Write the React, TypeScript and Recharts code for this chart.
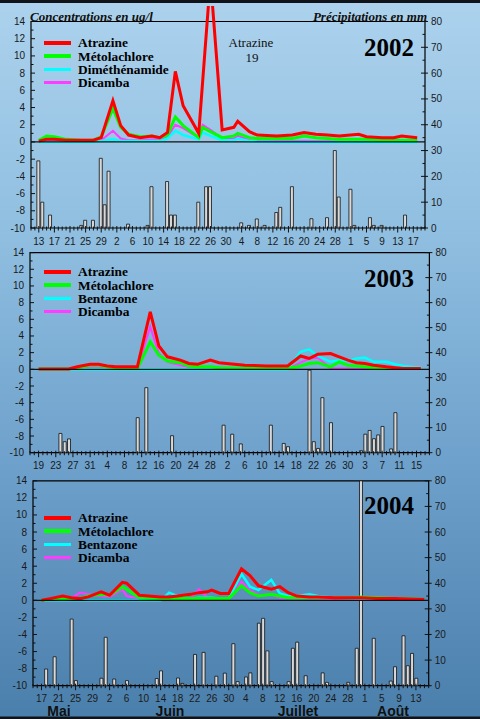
import React from "react";
import {
  Bar,
  ComposedChart,
  Legend,
  Line,
  ReferenceArea,
  ReferenceLine,
  XAxis,
  YAxis,
} from "recharts";

// day numbers: 1 = 1 May, 32 = 1 June, 62 = 1 July, 93 = 1 August

const days2002 = [13, 15, 17, 20, 24, 27, 29, 32, 34, 36, 39, 42, 44, 46, 48, 50, 54, 55, 57, 60, 63, 64, 67, 69, 74, 78, 81, 84, 87, 90, 95, 97, 101, 104, 106, 110];
const atrazine2002 = [0.1, 0.3, 0.3, 0.2, 0.2, 0.2, 0.5, 4.8, 1.9, 0.8, 0.5, 0.7, 0.5, 1.1, 8.2, 4.2, 1.0, 7.0, 19, 1.4, 1.7, 2.4, 1.2, 0.8, 0.7, 0.8, 1.1, 0.9, 0.8, 0.7, 0.9, 0.6, 0.5, 0.5, 0.7, 0.5];
const metolachlore2002 = [0.2, 0.7, 0.6, 0.3, 0.2, 0.2, 0.6, 3.9, 1.7, 0.9, 0.6, 0.7, 0.5, 0.8, 2.9, 1.9, 0.5, 1.7, 1.2, 0.5, 0.7, 1.0, 0.5, 0.4, 0.4, 0.4, 0.7, 0.5, 0.4, 0.3, 0.3, 0.3, 0.2, 0.2, 0.2, 0.2];
const dimethenamide2002 = [0, 0, 0, 0, 0, 0, 0.1, 0.3, 0.1, 0.1, 0.1, 0.1, 0.1, 0.4, 1.3, 0.8, 0.3, 1.1, 0.7, 0.2, 0.2, 0.4, 0.1, 0.05, 0, 0, 0, 0, 0, 0, 0, 0, 0, 0, 0, 0];
const dicamba2002 = [0.05, 0.1, 0.1, 0.1, 0.1, 0.1, 0.2, 1.3, 0.4, 0.2, 0.2, 0.3, 0.3, 0.6, 2.0, 1.6, 0.5, 2.0, 1.4, 0.4, 0.4, 0.7, 0.2, 0.1, 0.1, 0.1, 0.15, 0.1, 0.1, 0.05, 0.05, 0.05, 0.05, 0.05, 0.05, 0.05];
const rainDays2002 = [13, 14, 16, 24, 25, 27, 29, 30, 31, 36, 41, 42, 46, 47, 48, 54, 56, 57, 65, 67, 69, 71, 74, 75, 78, 83, 87, 89, 90, 93, 94, 98, 99, 101, 107];
const rain2002 = [26, 10, 5, 1, 3, 3, 27, 9, 22, 1.5, 1, 16, 18, 5, 5, 10, 16, 16, 2, 1, 3.5, 1, 6, 8, 16, 3.6, 4, 30, 12, 15, 1, 4, 1, 1, 5];

const days2003 = [19, 26, 28, 31, 33, 35, 37, 42, 45, 47, 49, 52, 54, 56, 59, 61, 67, 72, 77, 80, 82, 84, 87, 89, 91, 93, 95, 97, 100, 102, 104, 108];
const atrazine2003 = [0.05, 0.05, 0.3, 0.6, 0.6, 0.4, 0.3, 0.3, 6.9, 2.8, 1.5, 1.1, 0.7, 0.6, 1.1, 0.8, 0.5, 0.4, 0.4, 1.6, 1.3, 1.8, 1.9, 1.5, 1.1, 0.8, 0.7, 0.5, 0.3, 0.2, 0.1, 0.1];
const metolachlore2003 = [0.05, 0.05, 0.2, 0.5, 0.5, 0.3, 0.2, 0.1, 3.3, 1.7, 1.0, 0.8, 0.4, 0.3, 0.3, 0.2, 0.1, 0.1, 0.1, 0.4, 0.7, 0.8, 0.3, 0.9, 0.5, 0.4, 0.3, 0.2, 0.2, 0.1, 0.1, 0.1];
const bentazone2003 = [0, 0, 0, 0, 0, 0, 0, 0, 0, 0, 0, 0, 0, 0, 0, 0, 0, 0, 0, 2.1, 2.4, 1.6, 0.9, 1.1, 1.0, 1.3, 1.4, 0.9, 0.9, 0.6, 0.4, 0.2];
const dicamba2003 = [0, 0, 0.1, 0.3, 0.3, 0.2, 0.1, 0.1, 5.1, 1.9, 0.9, 0.5, 0.3, 0.3, 0.2, 0.2, 0.1, 0.05, 0.05, 0.8, 1.3, 1.4, 0.1, 0.1, 0.1, 0.05, 0.05, 0.05, 0.05, 0.05, 0.05, 0.05];
const rainDays2003 = [24, 25, 26, 42, 44, 50, 62, 64, 66, 73, 76, 77, 82, 83, 84, 85, 87, 94, 95, 96, 97, 98, 99, 101, 102];
const rain2003 = [7.7, 4.4, 5.5, 14, 26, 6.8, 11, 7.4, 3.5, 11, 3.7, 2.4, 33, 4.4, 1.7, 22, 12, 0.8, 7.4, 8.9, 5.6, 7.1, 10.5, 1.5, 16];

const days2004 = [17, 19, 22, 24, 26, 28, 31, 33, 36, 37, 40, 45, 47, 49, 52, 54, 56, 57, 59, 61, 64, 66, 68, 71, 73, 75, 77, 80, 82, 86, 90, 92, 96, 100, 107];
const atrazine2004 = [0, 0.2, 0.5, 0.3, 0.2, 0.4, 1.0, 0.6, 2.1, 2.0, 0.6, 0.4, 0.4, 0.5, 0.7, 0.9, 1.0, 1.2, 0.8, 0.8, 3.7, 2.9, 1.7, 1.3, 1.6, 0.9, 0.5, 0.4, 0.4, 0.3, 0.3, 0.3, 0.2, 0.2, 0.1];
const metolachlore2004 = [0, 0.1, 0.2, 0.2, 0.2, 0.5, 0.7, 0.6, 1.6, 1.3, 0.3, 0.2, 0.2, 0.2, 0.2, 0.2, 0.2, 0.2, 0.2, 0.2, 1.7, 0.9, 0.5, 0.7, 0.5, 0.3, 0.3, 0.3, 0.3, 0.3, 0.3, 0.4, 0.3, 0.2, 0.1];
const bentazone2004 = [0, 0, 0, 0, 0, 0, 0, 0, 0, 0, 0, 0, 0.9, 0.5, 0.2, 0.3, 0.3, 0.3, 0.2, 0.2, 3.1, 1.6, 1.2, 2.4, 0.8, 0.5, 0.5, 0.7, 0.5, 0.3, 0.2, 0.2, 0.1, 0.1, 0.1];
const dicamba2004 = [0, 0.1, 0.3, 0.2, 0.9, 0.7, 0.5, 0.4, 1.3, 0.5, 0.2, 0.2, 0.2, 0.2, 0.2, 1.3, 0.3, 0.3, 0.2, 0.1, 2.2, 1.2, 0.6, 0.7, 0.3, 0.2, 0.1, 0.1, 0.1, 0.1, 0.1, 0.1, 0.1, 0.1, 0.05];
const rainDays2004 = [18, 20, 24, 25, 31, 32, 34, 37, 44, 45, 49, 50, 53, 55, 58, 60, 62, 63, 65, 66, 68, 69, 70, 71, 75, 76, 77, 79, 83, 84, 89, 91, 92, 95, 99, 100, 102, 103, 104, 105];
const rain2004 = [6.5, 11.3, 26, 2, 2.9, 18.9, 2.6, 2, 2.8, 5.8, 3, 0.9, 12.2, 13, 3.7, 4.9, 16.4, 1.6, 3.4, 5, 24.4, 26.3, 13.6, 1.6, 1.6, 14.6, 17, 3.9, 5, 1.3, 1.3, 14.6, 80, 18.5, 1.8, 7.4, 19.5, 7.8, 12.6, 2.9];

const monthLabels = ["Mai", "Juin", "Juillet", "Août"];

const SERIF = '"Liberation Serif", "DejaVu Serif", serif';
const SANS = '"Liberation Sans", Arial, sans-serif';

interface SeriesDef {
  key: string;
  name: string;
  color: string;
  width: number;
}

type Row = { day: number; [key: string]: number };

function range(from: number, to: number, step: number): number[] {
  const out: number[] = [];
  for (let v = from; v <= to; v += step) out.push(v);
  return out;
}

function buildRows(
  days: number[],
  series: Record<string, number[]>,
  rainDays: number[],
  rain: number[],
): Row[] {
  const byDay = new Map<number, Row>();
  const rowFor = (d: number) => {
    if (!byDay.has(d)) byDay.set(d, { day: d });
    return byDay.get(d)!;
  };
  days.forEach((d, i) => {
    const row = rowFor(d);
    Object.entries(series).forEach(([key, values]) => {
      row[key] = values[i];
    });
  });
  rainDays.forEach((d, i) => {
    rowFor(d).rain = rain[i];
  });
  return [...byDay.values()].sort((a, b) => a.day - b.day);
}

function dayOfMonth(d: number): number {
  if (d > 92) return d - 92;
  if (d > 61) return d - 61;
  if (d > 31) return d - 31;
  return d;
}

function seriesFor(third: string): SeriesDef[] {
  return [
    { key: "atrazine", name: "Atrazine", color: "#ff0000", width: 3 },
    { key: "metolachlore", name: "Métolachlore", color: "#00ff00", width: 3 },
    { key: "third", name: third, color: "#00ffff", width: 2.5 },
    { key: "dicamba", name: "Dicamba", color: "#ff3cff", width: 2 },
  ];
}

function DayTick(props: any) {
  const { x, y, payload, firstMajor } = props;
  const day = payload.value;
  const major = (day - firstMajor) % 4 === 0;
  return (
    <g>
      <line x1={x} x2={x} y1={y - (major ? 2 : 1.5)} y2={y + (major ? 4.5 : 2.5)} stroke="#111" strokeWidth={1} />
      {major && (
        <text x={x} y={y + 16.5} textAnchor="middle" fontFamily={SANS} fontSize={10} fill="#1a1a1a">
          {dayOfMonth(day)}
        </text>
      )}
    </g>
  );
}

function LeftTick(props: any) {
  const { x, y, payload } = props;
  const v = payload.value;
  const major = v % 2 === 0;
  return (
    <g>
      <line x1={x} x2={x + (major ? 4 : 2.5)} y1={y} y2={y} stroke="#111" strokeWidth={1} />
      {major && (
        <text x={x - 6} y={y + 3.5} textAnchor="end" fontFamily={SANS} fontSize={10} fill="#1a1a1a">
          {v}
        </text>
      )}
    </g>
  );
}

function RightTick(props: any) {
  const { x, y, payload } = props;
  const v = payload.value;
  const major = v % 10 === 0;
  return (
    <g>
      <line x1={x - (major ? 4 : 2.5)} x2={x + (major ? 3 : 0)} y1={y} y2={y} stroke="#111" strokeWidth={1} />
      {major && (
        <text x={x + 6} y={y + 3.5} textAnchor="start" fontFamily={SANS} fontSize={10} fill="#1a1a1a">
          {v}
        </text>
      )}
    </g>
  );
}

function LegendBox({ payload, series }: { payload?: any[]; series: SeriesDef[] }) {
  const entries = series
    .map((s) => ({ s, p: (payload || []).find((p) => p.dataKey === s.key) }))
    .filter((e) => e.p);
  return (
    <div>
      {entries.map(({ s, p }) => (
        <div key={s.key} style={{ display: "flex", alignItems: "center", height: 13.4 }}>
          <span
            style={{
              display: "inline-block",
              width: 27,
              height: s.width + 1,
              background: p.color,
              marginRight: 7,
            }}
          />
          <span
            style={{
              fontFamily: SERIF,
              fontWeight: "bold",
              fontSize: 13.4,
              lineHeight: "13px",
              color: "#000",
              whiteSpace: "nowrap",
            }}
          >
            {p.value}
          </span>
        </div>
      ))}
    </div>
  );
}

interface PanelProps {
  top: number;
  height: number;
  marginTop: number;
  leftWidth: number;
  rightWidth: number;
  axisHeight: number;
  xDomain: [number, number];
  firstMajor: number;
  leftMax: number;
  rightMax: number;
  legendTop: number;
  rows: Row[];
  series: SeriesDef[];
}

function Panel({
  top,
  height,
  marginTop,
  leftWidth,
  rightWidth,
  axisHeight,
  xDomain,
  firstMajor,
  leftMax,
  rightMax,
  legendTop,
  rows,
  series,
}: PanelProps) {
  return (
    <div style={{ position: "absolute", left: 0, top }}>
      <ComposedChart
        width={480}
        height={height}
        data={rows}
        margin={{ top: marginTop, right: 0, bottom: 0, left: 0 }}
      >
        <XAxis
          dataKey="day"
          type="number"
          domain={xDomain}
          ticks={range(xDomain[0], xDomain[1], 1)}
          interval={0}
          height={axisHeight}
          allowDataOverflow
          axisLine={false}
          tickLine={false}
          tickSize={0}
          tickMargin={0}
          tick={(p: any) => <DayTick {...p} firstMajor={firstMajor} />}
        />
        <YAxis
          yAxisId="c"
          domain={[-10, leftMax]}
          ticks={range(-10, 14, 1)}
          interval={0}
          width={leftWidth}
          allowDataOverflow
          axisLine={false}
          tickLine={false}
          tickSize={0}
          tickMargin={0}
          tick={(p: any) => <LeftTick {...p} />}
        />
        <YAxis
          yAxisId="r"
          orientation="right"
          domain={[0, rightMax]}
          ticks={range(0, 80, 5)}
          interval={0}
          width={rightWidth}
          allowDataOverflow
          axisLine={false}
          tickLine={false}
          tickSize={0}
          tickMargin={0}
          tick={(p: any) => <RightTick {...p} />}
        />
        <ReferenceArea
          yAxisId="c"
          x1={xDomain[0]}
          x2={xDomain[1]}
          y1={-10}
          y2={14}
          fill="none"
          stroke="#000"
          strokeWidth={1.2}
        />
        <Bar
          yAxisId="r"
          dataKey="rain"
          barSize={3}
          fill="#d8d8d8"
          stroke="#111"
          strokeWidth={0.8}
          legendType="none"
          isAnimationActive={false}
        />
        {[...series].reverse().map((s) => (
          <Line
            key={s.key}
            yAxisId="c"
            type="linear"
            dataKey={s.key}
            name={s.name}
            stroke={s.color}
            strokeWidth={s.width}
            dot={false}
            connectNulls
            isAnimationActive={false}
          />
        ))}
        <ReferenceLine yAxisId="c" y={0} stroke="#111" strokeWidth={1.3} />
        <Legend
          layout="vertical"
          align="center"
          verticalAlign="middle"
          wrapperStyle={{ top: legendTop, left: 44, width: "auto", height: "auto" }}
          content={(p: any) => <LegendBox payload={p.payload} series={series} />}
        />
      </ComposedChart>
    </div>
  );
}

export default function App() {
  const rows2002 = buildRows(
    days2002,
    { atrazine: atrazine2002, metolachlore: metolachlore2002, third: dimethenamide2002, dicamba: dicamba2002 },
    rainDays2002,
    rain2002,
  );
  const rows2003 = buildRows(
    days2003,
    { atrazine: atrazine2003, metolachlore: metolachlore2003, third: bentazone2003, dicamba: dicamba2003 },
    rainDays2003,
    rain2003,
  );
  const rows2004 = buildRows(
    days2004,
    { atrazine: atrazine2004, metolachlore: metolachlore2004, third: bentazone2004, dicamba: dicamba2004 },
    rainDays2004,
    rain2004,
  );
  const atrazinePeak = Math.max(...atrazine2002);

  return (
    <div
      style={{
        position: "absolute",
        left: 0,
        top: 0,
        width: 480,
        height: 719,
        overflow: "hidden",
        background: "linear-gradient(180deg, #acd2ed 0%, #8fbee0 33%, #6c9fca 66%, #4b7fab 100%)",
      }}
    >
      <Panel
        top={0}
        height={250}
        marginTop={6}
        leftWidth={31}
        rightWidth={55}
        axisHeight={22}
        xDomain={[11, 112]}
        firstMajor={13}
        leftMax={15.8}
        rightMax={86}
        legendTop={36}
        rows={rows2002}
        series={seriesFor("Diméthénamide")}
      />
      <Panel
        top={240}
        height={240}
        marginTop={12.6}
        leftWidth={30}
        rightWidth={50.6}
        axisHeight={27.3}
        xDomain={[17, 110]}
        firstMajor={19}
        leftMax={14}
        rightMax={80}
        legendTop={25}
        rows={rows2003}
        series={seriesFor("Bentazone")}
      />
      <Panel
        top={470}
        height={249}
        marginTop={10.8}
        leftWidth={33}
        rightWidth={51.3}
        axisHeight={33.3}
        xDomain={[15, 108]}
        firstMajor={17}
        leftMax={14}
        rightMax={80}
        legendTop={41}
        rows={rows2004}
        series={seriesFor("Bentazone")}
      />
      <svg
        width={480}
        height={719}
        style={{ position: "absolute", left: 0, top: 0, pointerEvents: "none" }}
      >
        <text x={30} y={20.5} fontFamily={SERIF} fontStyle="italic" fontWeight="bold" fontSize={13} fill="#111">
          Concentrations en ug/l
        </text>
        <text x={427} y={20.5} textAnchor="end" fontFamily={SERIF} fontStyle="italic" fontWeight="bold" fontSize={13} fill="#111">
          Précipitations en mm
        </text>
        <text x={251} y={47} textAnchor="middle" fontFamily={SERIF} fontSize={13} fill="#111">
          Atrazine
        </text>
        <text x={252} y={61.5} textAnchor="middle" fontFamily={SERIF} fontSize={13} fill="#111">
          {atrazinePeak}
        </text>
        <text x={414} y={56} textAnchor="end" fontFamily={SERIF} fontWeight="bold" fontSize={25} fill="#000">
          2002
        </text>
        <text x={414} y={286.5} textAnchor="end" fontFamily={SERIF} fontWeight="bold" fontSize={25} fill="#000">
          2003
        </text>
        <text x={414} y={514} textAnchor="end" fontFamily={SERIF} fontWeight="bold" fontSize={25} fill="#000">
          2004
        </text>
        {monthLabels.map((m, i) => (
          <text
            key={m}
            x={[59, 170, 298, 393][i]}
            y={716}
            textAnchor="middle"
            fontFamily={SANS}
            fontWeight="bold"
            fontSize={14}
            fill="#111"
          >
            {m}
          </text>
        ))}
        <rect x={0} y={0} width={480} height={3} fill="#101418" />
        <rect x={0} y={716.5} width={480} height={2.5} fill="#101418" />
      </svg>
    </div>
  );
}
